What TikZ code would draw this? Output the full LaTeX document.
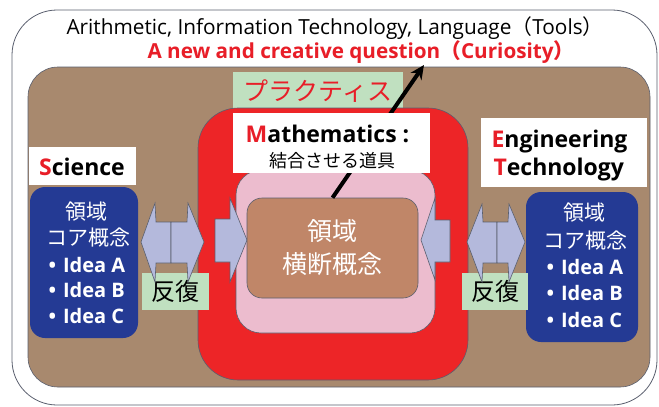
\documentclass[tikz,border=0pt]{standalone}
\usepackage{fontspec}
\setmainfont{Open Sans}
\newfontfamily\cjk{Noto Sans CJK JP}
\usetikzlibrary{arrows.meta}
\definecolor{bgbrown}{RGB}{168,137,110}
\definecolor{crossbrown}{RGB}{192,134,104}
\definecolor{bigred}{RGB}{237,37,39}
\definecolor{pinkfill}{RGB}{236,188,206}
\definecolor{ideablue}{RGB}{36,58,148}
\definecolor{lav}{RGB}{180,185,220}
\definecolor{softgreen}{RGB}{192,224,192}
\definecolor{qred}{RGB}{232,30,40}
\definecolor{edgegray}{RGB}{90,95,110}
\newcommand{\fsz}[1]{\fontsize{#1}{#1}\selectfont}
\begin{document}
\begin{tikzpicture}[x=1pt,y=-1pt,
  outerbox/.style={draw=edgegray,line width=0.8pt,fill=white,rounded corners=45pt},
  bgbox/.style={draw=edgegray,line width=0.6pt,fill=bgbrown,rounded corners=30pt},
  redbox/.style={draw=edgegray,line width=0.6pt,fill=bigred,rounded corners=40pt},
  pinkbox/.style={draw=edgegray,line width=0.6pt,fill=pinkfill,rounded corners=25pt},
  crossbox/.style={draw=edgegray,line width=0.6pt,fill=crossbrown,rounded corners=15pt,
    minimum width=171pt,minimum height=100pt,inner sep=0pt,align=center,text=white,
    font=\cjk\fontsize{25}{33}\selectfont},
  whitebox/.style={fill=white,inner sep=0pt},
  greenbox/.style={fill=softgreen,inner sep=0pt},
  ideabox/.style={fill=ideablue,rounded corners=15pt,inner sep=0pt},
  blk/.style={fill=lav,draw=edgegray,line width=0.6pt,line join=miter},
  idea/.style={anchor=base west,text=white,font=\bfseries\fsz{20}},
  ideacjk/.style={text=white,font=\cjk\fsz{21}},
  title/.style={font=\bfseries\fsz{23}}
]
\useasboundingbox (0,0) rectangle (659,407);
% frames
\draw[outerbox] (12,10) rectangle (657,405);
\draw[bgbox] (28,67) rectangle (650,387);
% top texts
\node[anchor=base,font=\fsz{20.8}] (tools) at (335,34) {Arithmetic, Information Technology, Language{\cjk （}Tools{\cjk ）}};
\node[anchor=base,font=\bfseries\fsz{20.7}] (curio) at (361,58) {\textcolor{qred}{A new and creative question{\cjk （}Curiosity{\cjk ）}}};
\coordinate (q) at (424,65);
% practice
\node[greenbox,minimum width=170pt,minimum height=38pt,text=qred,font=\cjk\fsz{25}] (prac) at (318,91) {プラクティス};
% red and pink
\draw[redbox] (198,108) rectangle (468,380);
\draw[pinkbox] (236,170) rectangle (435,333);
% center arrows
\draw[blk] (215,219) -- (230,219) -- (230,198) -- (247,240) -- (230,282) -- (230,262) -- (215,262) -- cycle;
\draw[blk] (450,220) -- (435,220) -- (435,198) -- (421,240) -- (435,280) -- (435,262) -- (450,262) -- cycle;
% cross-domain box
\node[crossbox] (cross) at (332.5,248) {領域\\横断概念};
\draw[line width=4pt,-{Stealth[length=14pt,width=13pt]}] (cross.north) -- (q);
% mathematics
\node[whitebox,minimum width=197pt,minimum height=60pt] (mathbox) at (331.5,143) {};
\node[anchor=base,font=\bfseries\fsz{23}] (mathtxt) at (327.5,142) {\textcolor{qred}{M}athematics :};
\node[font=\cjk\fsz{18}] (tool) at (332.5,160.5) {結合させる道具};
% science
\node[whitebox,minimum width=107pt,minimum height=38pt] (scibox) at (82.5,166) {};
\node[anchor=base,title] (scitxt) at (82,175) {\textcolor{qred}{S}cience};
% engineering
\node[whitebox,minimum width=166pt,minimum height=69pt] (engbox) at (564,152.5) {};
\node[anchor=base west,title] (engtxt) at (488,147) {\textcolor{qred}{E}ngineering};
\node[anchor=base west,title] (techtxt) at (490,175) {\textcolor{qred}{T}echnology};
% blue idea boxes
\node[ideabox,minimum width=108pt,minimum height=151pt] (lbox) at (84,262.5) {};
\node[ideacjk] (l1) at (86,212) {領域};
\node[ideacjk] (l2) at (88,238) {コア概念};
\node[idea] (la) at (45,272) {•\hspace{7pt}Idea A};
\node[idea] (lb) at (45,297) {•\hspace{7pt}Idea B};
\node[idea] (lc) at (45,323) {•\hspace{7pt}Idea C};
\node[ideabox,minimum width=112pt,minimum height=150pt] (rbox) at (582,267) {};
\node[ideacjk] (r1) at (584,213) {領域};
\node[ideacjk] (r2) at (585,241) {コア概念};
\node[idea] (ra) at (543,274) {•\hspace{7pt}Idea A};
\node[idea] (rb) at (543,300) {•\hspace{7pt}Idea B};
\node[idea] (rc) at (543,327) {•\hspace{7pt}Idea C};
% iteration boxes
\node[greenbox,minimum width=67pt,minimum height=37pt,font=\cjk\fsz{24}] (lit) at (175.5,291.5) {反復};
\node[greenbox,minimum width=66pt,minimum height=37pt,font=\cjk\fsz{24}] (rit) at (495,291.5) {反復};
% double arrows
\draw[blk] (141,242) -- (155,203) -- (156,222) -- (171,222) -- (171,263) -- (156,263) -- (155,282) -- cycle;
\draw[blk] (204,242) -- (188,203) -- (187,222) -- (171,222) -- (171,263) -- (187,263) -- (188,282) -- cycle;
\draw[blk] (467,242) -- (482,204) -- (483,222) -- (497,222) -- (497,263) -- (483,263) -- (482,282) -- cycle;
\draw[blk] (525,242) -- (509,204) -- (508,222) -- (497,222) -- (497,263) -- (508,263) -- (509,282) -- cycle;
\end{tikzpicture}
\end{document}
